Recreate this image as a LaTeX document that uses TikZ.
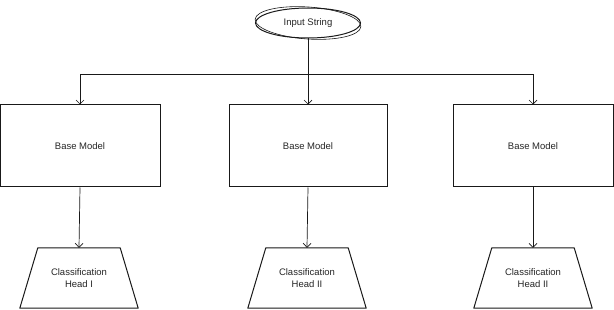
\documentclass[tikz,border=0pt]{standalone}
\usepackage{fontspec}
\setmainfont{Liberation Sans}
\usetikzlibrary{arrows.meta,shapes.geometric}
\begin{document}
\begin{tikzpicture}[x=1pt,y=-1pt,
  every node/.style={font=\fontsize{9.5}{12}\selectfont, text=black!85},
  ink/.style={draw=black!90, line width=1pt},
  inputnode/.style={ink, ellipse, minimum width=105pt, minimum height=30pt, inner sep=0pt},
  modelbox/.style={ink, rectangle, minimum width=160pt, minimum height=82pt, inner sep=0pt},
  headbox/.style={rectangle, minimum width=118pt, minimum height=60pt,
    inner sep=0pt, align=center},
  headoutline/.style={ink, line join=round},
  link/.style={draw=black!90, line width=0.7pt, -{Straight Barb[length=4pt,width=8pt]}}
]
\useasboundingbox (0,0) rectangle (614,310);

% input, with a second loose stroke for a hand-drawn feel
\node[inputnode] (in) at (308,23) {Input String};
\draw[black!90, line width=0.6pt, rotate around={-4:(in.center)}]
  (in.center) ellipse [x radius=53pt, y radius=16pt];

% three base models
\node[modelbox] (m1) at (80,146) {Base Model};
\node[modelbox, minimum width=158pt] (m2) at (308,146) {Base Model};
\node[modelbox] (m3) at (533,146) {Base Model};

% classification heads: trapezoids narrowing toward the top
\node[headbox] (h1) at (79,278) {Classification\\Head I};
\node[headbox] (h2) at (307,278) {Classification\\Head II};
\node[headbox] (h3) at (533,278) {Classification\\Head II};
\foreach \h in {h1,h2,h3}
  \draw[headoutline] ([xshift=18pt]\h.north west) -- ([xshift=-18pt]\h.north east)
    -- (\h.south east) -- (\h.south west) -- cycle;

% fan-out from the input
\coordinate (split) at (308,74);
\draw[link] (in.south) -- (m2.north);
\draw[link] (split) -| (m1.north);
\draw[link] (split) -| (m3.north);

% model to head
\draw[link] (m1.south) -- (h1.north);
\draw[link] (m2.south) -- (h2.north);
\draw[link] (m3.south) -- (h3.north);
\end{tikzpicture}
\end{document}
